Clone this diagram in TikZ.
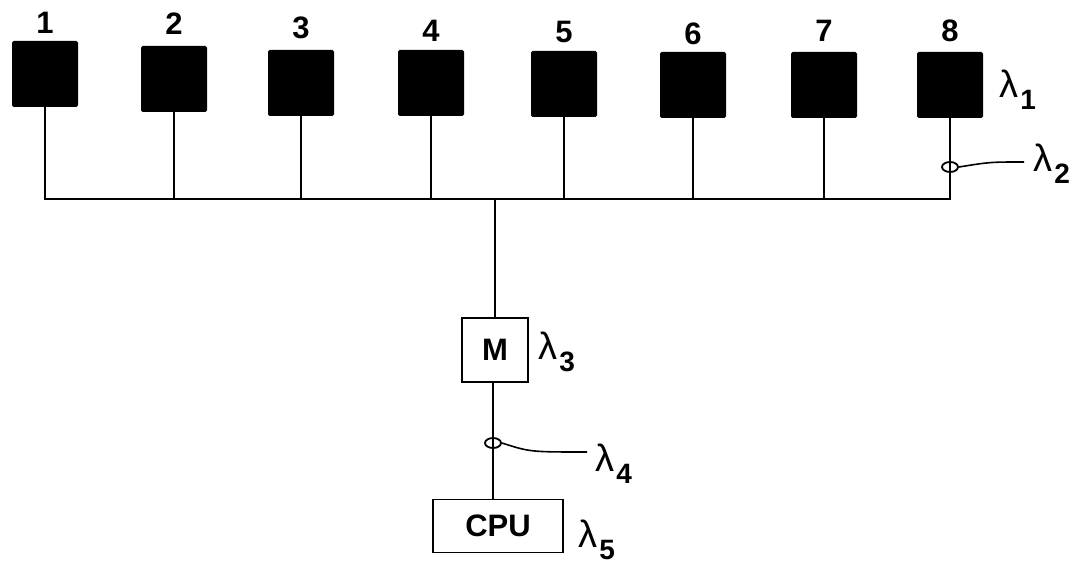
\documentclass[tikz,border=0pt]{standalone}
\usepackage{fontspec}
\setmainfont{Liberation Sans}
\usepackage{tikz}
\usetikzlibrary{shapes.geometric, positioning}
\usepackage{xcolor}

\newcommand{\lam}[1]{λ\kern1pt\raisebox{-0.6ex}{\fontsize{14}{14}\selectfont\bfseries #1}}

\begin{document}
\begin{tikzpicture}[
    x=0.5pt, y=-0.5pt,
    term/.style={rectangle, fill=black, minimum width=33pt, minimum height=33pt, inner sep=0pt, rounded corners=0.8pt},
    num/.style={font=\fontsize{15.5}{16}\selectfont\bfseries},
    unit/.style={rectangle, draw, line width=0.9pt, inner sep=0pt, font=\fontsize{15.5}{16}\selectfont\bfseries},
    lam/.style={anchor=west, inner sep=0pt, font=\fontsize{19}{20}\selectfont},
    ring/.style={ellipse, draw, line width=0.9pt, minimum width=8pt, minimum height=5pt, inner sep=0pt},
    line/.style={draw, line width=1.2pt}
]
    \useasboundingbox (0,0) rectangle (1080,566);

    % Nodes
    \node (t1) [term, label={[num, label distance=0pt]above:1}] at (45,74) {};
    \node (t2) [term, label={[num, label distance=2pt]above:2}] at (174,79) {};
    \node (t3) [term, label={[num, label distance=2pt]above:3}] at (301,83) {};
    \node (t4) [term, label={[num, label distance=0.5pt]above:4}] at (431,83) {};
    \node (t5) [term, label={[num, label distance=0.5pt]above:5}] at (564,84) {};
    \node (t6) [term, label={[num, label distance=0pt]above:6}] at (693,85) {};
    \node (t7) [term, label={[num, label distance=1.5pt]above:7}] at (824,85) {};
    \node (t8) [term, label={[num, label distance=1.5pt]above:8}] at (950,85) {};
    \coordinate (bus) at (495,199);

    \node (mem) [unit, minimum width=33pt, minimum height=32pt] at (495,350) {M};
    \node (cpu) [unit, minimum width=65pt, minimum height=26.5pt] at (498,526) {CPU};

    \node (ring2) [ring] at (950,167) {};
    \node (ring4) [ring] at (493,443) {};

    \node (lam1) [lam] at (999,90) {\lam{1}};
    \node (lam2) [lam] at (1033,164) {\lam{2}};
    \node (lam3) [lam] at (538,352) {\lam{3}};
    \node (lam4) [lam] at (595,464) {\lam{4}};
    \node (lam5) [lam] at (578,540) {\lam{5}};

    \coordinate (end2) at (1024,162);
    \coordinate (end4) at (587,452);

    % Paths
    \path [line] (t1) -- (t1 |- bus) -- (t8 |- bus) -- (t8);
    \path [line] (t2) -- (t2 |- bus);
    \path [line] (t3) -- (t3 |- bus);
    \path [line] (t4) -- (t4 |- bus);
    \path [line] (t5) -- (t5 |- bus);
    \path [line] (t6) -- (t6 |- bus);
    \path [line] (t7) -- (t7 |- bus);
    \path [line] (bus) -- (mem);
    \path [line] (mem.south -| ring4) -- (ring4 |- cpu.north);
    \draw [line width=0.8pt] (ring2.east) .. controls (990,162) .. (end2);
    \draw [line width=0.8pt] (ring4.east) .. controls (530,452) .. (end4);
\end{tikzpicture}
\end{document}
